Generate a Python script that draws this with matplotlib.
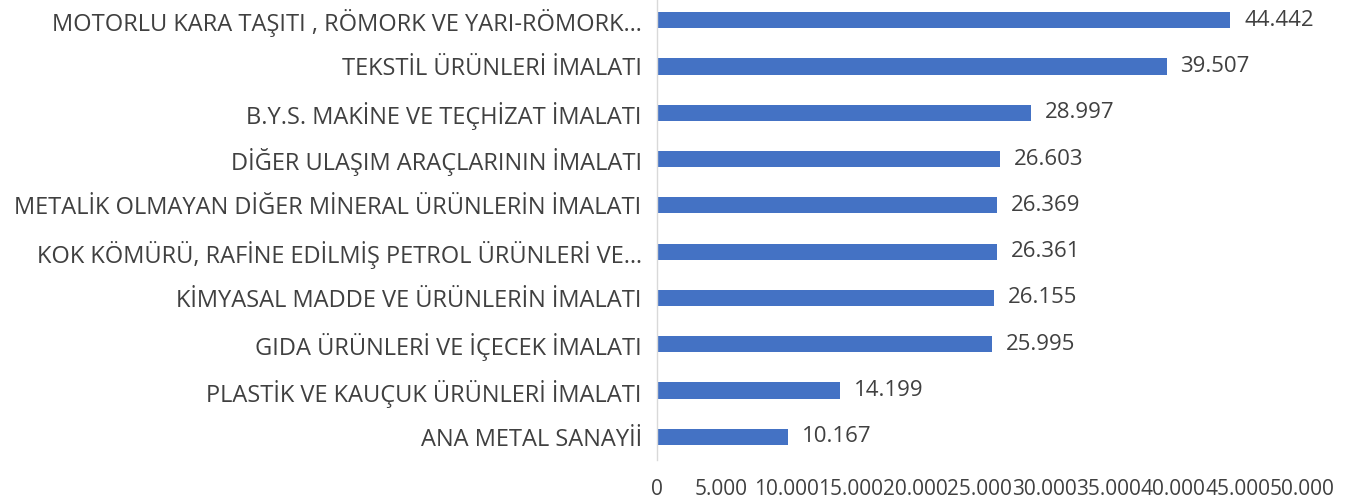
import matplotlib
matplotlib.use("Agg")
import matplotlib.pyplot as plt
from matplotlib.ticker import FuncFormatter

categories = [
    "MOTORLU KARA TAŞITI , RÖMORK VE YARI-RÖMORK…",
    "TEKSTİL ÜRÜNLERİ İMALATI",
    "B.Y.S. MAKİNE VE TEÇHİZAT İMALATI",
    "DİĞER ULAŞIM ARAÇLARININ İMALATI",
    "METALİK OLMAYAN DİĞER MİNERAL ÜRÜNLERİN İMALATI",
    "KOK KÖMÜRÜ, RAFİNE EDİLMİŞ PETROL ÜRÜNLERİ VE…",
    "KİMYASAL MADDE VE ÜRÜNLERİN İMALATI",
    "GIDA ÜRÜNLERİ VE İÇECEK İMALATI",
    "PLASTİK VE KAUÇUK ÜRÜNLERİ İMALATI",
    "ANA METAL SANAYİİ",
]
values = [44442, 39507, 28997, 26603, 26369, 26361, 26155, 25995, 14199, 10167]
ticks = [0, 5000, 10000, 15000, 20000, 25000, 30000, 35000, 40000, 45000, 50000]

plt.rcParams['font.family'] = ['Open Sans', 'DejaVu Sans']

def fmt(v):
    return f"{int(round(v)):,}".replace(",", ".")

fig = plt.figure(figsize=(13.6, 5.04), dpi=100)
ax = fig.add_axes([657/1360, 1 - 460/504, (1302-657)/1360, 463/504])

y = list(range(len(categories)))
ax.barh(y, values, height=0.35, color="#4472C4")
ax.set_ylim(len(categories) - 0.5, -0.5)
ax.set_xlim(0, 50000)
ax.set_yticks(y)
ax.set_yticklabels(categories, fontsize=17, color="#404040")
ax.set_xticks(ticks)
ax.xaxis.set_major_formatter(FuncFormatter(lambda v, p: fmt(v)))
ax.tick_params(axis='x', length=0, pad=14, labelsize=15, labelcolor="#404040")
ax.tick_params(axis='y', length=0, pad=11)
for s in ["top", "right", "bottom"]:
    ax.spines[s].set_visible(False)
ax.spines["left"].set_color("#D9D9D9")
ax.spines["left"].set_linewidth(1)

for yi, v in zip(y, values):
    ax.annotate(fmt(v), (v, yi), xytext=(10, 0), textcoords="offset points",
                va="center", ha="left", fontsize=16, color="#404040")

fig.savefig("out.png", dpi=100)
